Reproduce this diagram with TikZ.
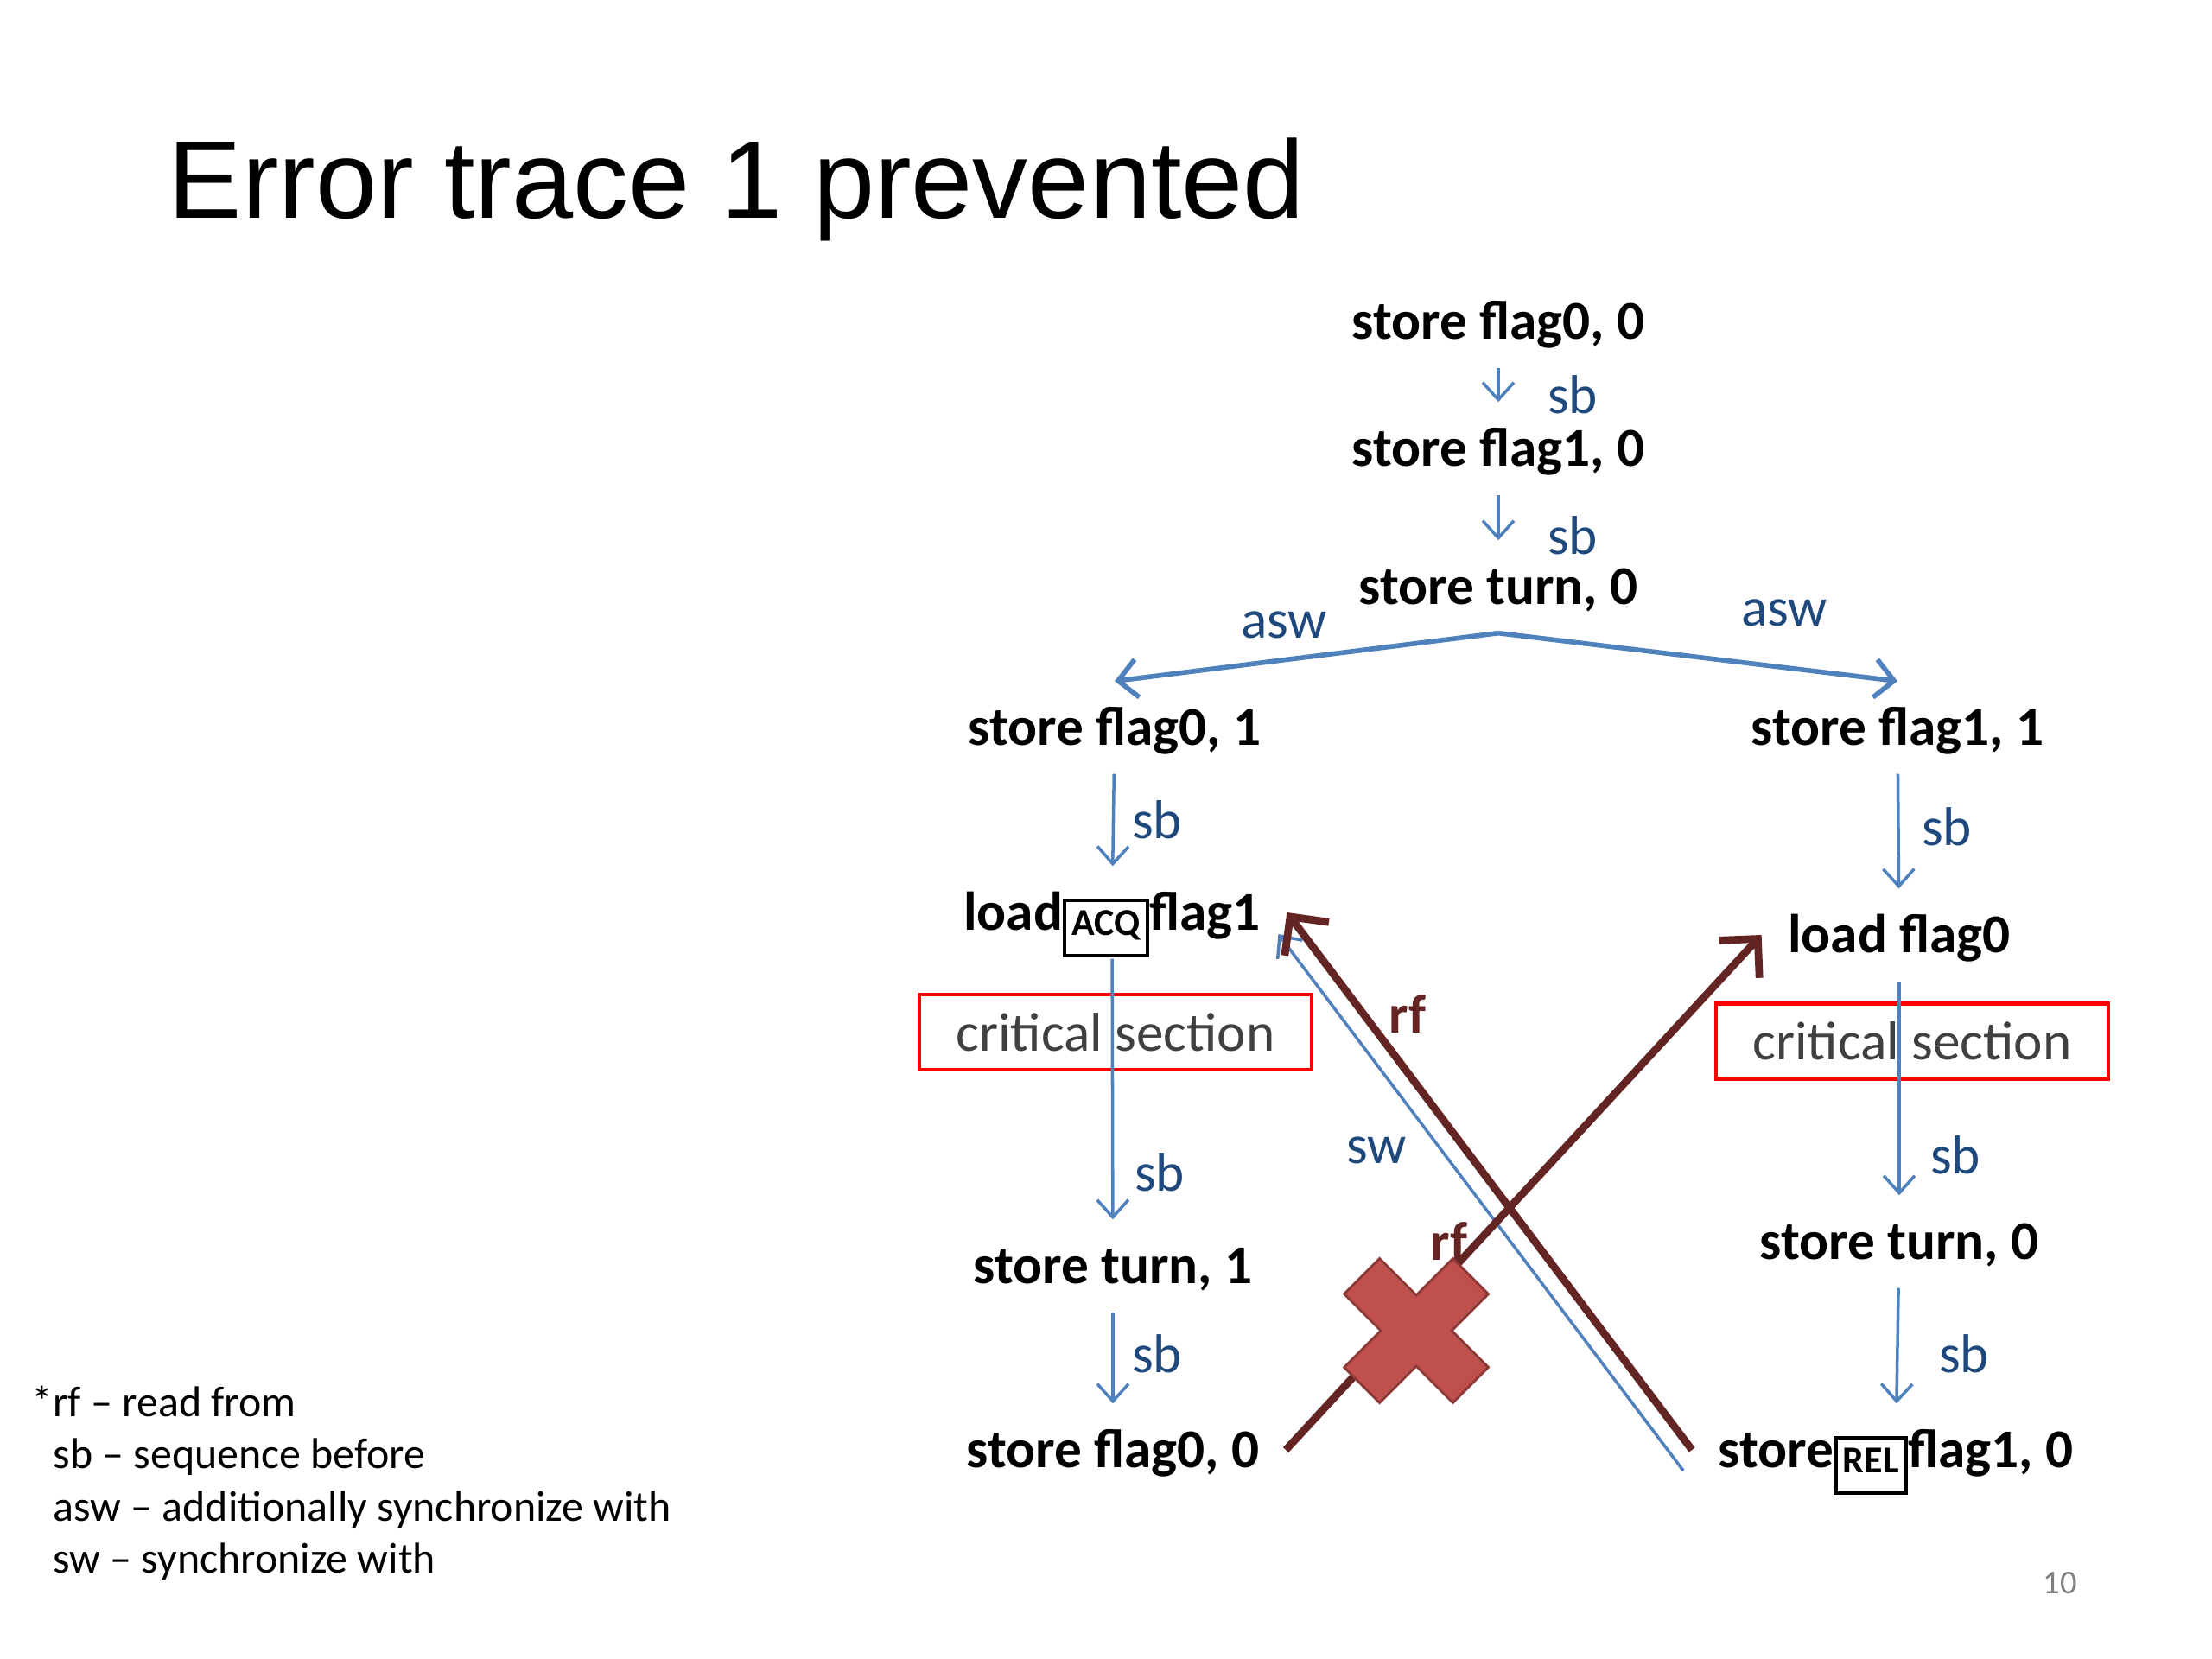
\documentclass[tikz,border=0pt]{standalone}
\usepackage{fontspec}
\setmainfont{Carlito}
\newfontfamily\titlefont{Liberation Sans}
\usetikzlibrary{arrows.meta,calc}
\definecolor{arrowblue}{HTML}{4F81BD}
\definecolor{labelblue}{HTML}{1F497D}
\definecolor{rfbrown}{HTML}{632523}
\definecolor{crossred}{HTML}{C0504D}
\definecolor{crossedge}{HTML}{8C3836}
\definecolor{crittext}{HTML}{404040}
\newcommand{\ordbox}[1]{\raisebox{-1.5pt}{\setlength{\fboxsep}{1.8pt}\setlength{\fboxrule}{1.2pt}\fbox{\fontsize{12.5}{12.5}\selectfont\rule[-4.5pt]{0pt}{13.5pt}#1}}}
\tikzset{
    event-node/.style = {font=\fontsize{18}{18}\selectfont\bfseries, text height=15.4pt, text depth=3.6pt, minimum height=1.06cm, inner xsep=0.3cm, inner ysep=0pt},
    edge-label/.style = {font=\fontsize{18}{18}\selectfont, text=labelblue, inner sep=0pt},
    rf-label/.style = {font=\fontsize{18}{18}\selectfont\bfseries, text=rfbrown, inner sep=0pt},
    crit-box/.style = {draw=red, line width=1.4pt, minimum width=4.54cm, minimum height=0.87cm, font=\fontsize{18}{18}\selectfont, text=crittext},
    sb-arrow/.style = {draw=arrowblue, line width=1pt, -{Straight Barb[length=2mm, width=3.6mm]}},
    asw-arrow/.style = {draw=arrowblue, line width=1.6pt, -{Straight Barb[length=2.2mm, width=4.4mm]}},
    rf-arrow/.style = {draw=rfbrown, line width=2.5pt, -{Straight Barb[length=3.2mm, width=6.4mm]}},
}

\begin{document}
\begin{tikzpicture}
\useasboundingbox (0,0) rectangle (25.6,-19.2);
\node [font=\titlefont\fontsize{36.4}{36.4}\selectfont, anchor=base west, inner sep=0pt] (title) at (1.94,-2.53) {Error trace 1 prevented};

\node [event-node] (n1) at (17.34,-3.72) {store flag0, 0};
\node [event-node] (n2) at (17.34,-5.19) {store flag1, 0};
\node [event-node] (n3) at (17.34,-6.79) {store turn, 0};
\node [event-node] (n4) at (12.90,-8.42) {store flag0, 1};
\node [event-node] (n5) at (21.96,-8.42) {store flag1, 1};
\node [event-node] (n6) at (12.87,-10.56) {load\ordbox{ACQ}flag1};
\node [event-node] (n7) at (21.98,-10.82) {load flag0};
\node [event-node] (n8) at (12.88,-14.65) {store turn, 1};
\node [event-node] (n9) at (21.98,-14.37) {store turn, 0};
\node [event-node] (n10) at (12.88,-16.78) {store flag0, 0};
\node [event-node] (n11) at (21.94,-16.78) {store\ordbox{REL}flag1, 0};

\node [crit-box] (crit0) at (12.91,-11.945) {critical section};
\node [crit-box] (crit1) at (22.13,-12.05) {critical section};

\draw [sb-arrow] (n1) -- (n2);
\draw [sb-arrow] (n2) -- (n3);
\draw [asw-arrow] (n3.south) -- (n4.north);
\draw [asw-arrow] (n3.south) -- (n5.north);
\draw [sb-arrow] (n4) -- (n6);
\draw [sb-arrow] (n5) -- (n7);
\draw [sb-arrow] (n6) -- (n8);
\draw [sb-arrow] (n7) -- (n9);
\draw [sb-arrow] (n8) -- (n10);
\draw [sb-arrow] (n9) -- (n11);

\node [edge-label] (sb1) at (18.20,-4.57) {sb};
\node [edge-label] (sb2) at (18.20,-6.20) {sb};
\node [edge-label] (asw0) at (14.86,-7.23) {asw};
\node [edge-label] (asw1) at (20.65,-7.09) {asw};
\node [edge-label] (sb3) at (13.39,-9.49) {sb};
\node [edge-label] (sb4) at (22.53,-9.57) {sb};
\node [edge-label] (sb5) at (13.42,-13.57) {sb};
\node [edge-label] (sb6) at (22.63,-13.37) {sb};
\node [edge-label] (sb7) at (13.39,-15.67) {sb};
\node [edge-label] (sb8) at (22.73,-15.67) {sb};

\draw [draw=arrowblue, line width=1pt, -{Straight Barb[length=2mm, width=3.6mm]}] ($(n11.west)+(-0.1,-0.24)$) -- ($(n6.east)+(-0.1,-0.25)$);
\draw [rf-arrow] (n11.west) -- (n6.east);
\draw [rf-arrow] (n10.east) -- (n7.west);
\node [edge-label] (sw) at (15.93,-13.31) {sw};
\node [rf-label] (rf0) at (16.29,-11.74) {rf};
\node [rf-label] (rf1) at (16.77,-14.37) {rf};

\begin{scope}[shift={(16.39,-15.40)}, rotate=45]
\filldraw [fill=crossred, draw=crossedge, line width=0.8pt] (-0.29,0.89) -- (0.29,0.89) -- (0.29,0.29) -- (0.89,0.29) -- (0.89,-0.29) -- (0.29,-0.29) -- (0.29,-0.89) -- (-0.29,-0.89) -- (-0.29,-0.29) -- (-0.89,-0.29) -- (-0.89,0.29) -- (-0.29,0.29) -- cycle;
\end{scope}

\node [font=\fontsize{14.2}{17.2}\selectfont, align=left, anchor=north west, inner sep=0pt] (legend) at (0.36,-16.03) {*rf -- read from\\\phantom{*}sb -- sequence before\\\phantom{*}asw -- additionally synchronize with\\\phantom{*}sw -- synchronize with};
\node [font=\fontsize{11}{11}\selectfont, text=gray, inner sep=0pt] (pagenum) at (23.84,-18.32) {10};
\end{tikzpicture}
\end{document}
